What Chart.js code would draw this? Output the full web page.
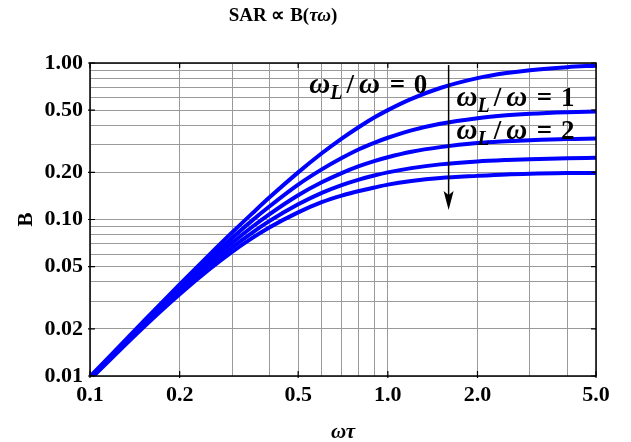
<!DOCTYPE html>
<html>
<head>
<meta charset="utf-8">
<script src="https://cdn.jsdelivr.net/npm/chart.js@4/dist/chart.umd.min.js"></script>
<style>
html,body{margin:0;padding:0;background:#fff;}
#wrap{width:631px;height:442px;}
</style>
</head>
<body>
<div id="wrap"><canvas id="c" width="631" height="442"></canvas></div>
<script>
// ---- data ----
const xValues = [0.1, 0.15, 0.2, 0.25, 0.3, 0.35, 0.4, 0.5, 0.6, 0.7, 0.8, 0.9, 1.0, 1.2, 1.5, 2.0, 2.5, 3.0, 4.0, 5.0];
const b0 = [0.0099, 0.0220, 0.0385, 0.0588, 0.0826, 0.109, 0.138, 0.200, 0.265, 0.329, 0.390, 0.448, 0.500, 0.590, 0.692, 0.800, 0.862, 0.900, 0.941, 0.962];
const b1 = [0.0098, 0.0215, 0.0370, 0.0556, 0.0763, 0.0984, 0.121, 0.167, 0.209, 0.247, 0.281, 0.309, 0.333, 0.371, 0.409, 0.444, 0.463, 0.474, 0.485, 0.490];
const b2 = [0.0097, 0.0211, 0.0357, 0.0526, 0.0709, 0.0896, 0.108, 0.143, 0.173, 0.198, 0.219, 0.236, 0.250, 0.271, 0.290, 0.308, 0.316, 0.321, 0.327, 0.329];
const b3 = [0.0096, 0.0206, 0.0345, 0.0500, 0.0662, 0.0822, 0.0976, 0.125, 0.148, 0.166, 0.180, 0.191, 0.200, 0.213, 0.225, 0.235, 0.240, 0.243, 0.246, 0.248];
const b4 = [0.0095, 0.0202, 0.0333, 0.0476, 0.0621, 0.0760, 0.0889, 0.111, 0.129, 0.142, 0.152, 0.160, 0.167, 0.176, 0.184, 0.190, 0.194, 0.196, 0.198, 0.198];

const xTickValues = [0.1, 0.2, 0.5, 1.0, 2.0, 5.0];
const xTickLabels = ['0.1', '0.2', '0.5', '1.0', '2.0', '5.0'];
const yTickValues = [1.0, 0.5, 0.2, 0.1, 0.05, 0.02, 0.01];
const yTickLabels = ['1.00', '0.50', '0.20', '0.10', '0.05', '0.02', '0.01'];
const xGrid = [0.1, 0.2, 0.3, 0.4, 0.5, 0.6, 0.7, 0.8, 0.9, 1.0, 2.0, 3.0, 4.0, 5.0];
const yGrid = [0.01, 0.02, 0.03, 0.04, 0.05, 0.06, 0.07, 0.08, 0.09, 0.1, 0.2, 0.3, 0.4, 0.5, 0.6, 0.7, 0.8, 0.9, 1.0];

// annotation anchors (data coordinates)
const curveLabels = [
  {text: '0', x: 0.545, y: 0.640},
  {text: '1', x: 1.70, y: 0.535},
  {text: '2', x: 1.70, y: 0.325}
];
const arrowX = 1.6, arrowTop = 0.97, arrowTip = 0.115;

const series = [b0, b1, b2, b3, b4];
const SERIF = '"Liberation Serif", "Times New Roman", serif';

function findLabel(v, vals, labels) {
  for (let i = 0; i < vals.length; i++) {
    if (Math.abs(v - vals[i]) / vals[i] < 1e-6) return labels[i];
  }
  return '';
}

function drawSegments(ctx, segs, x, y, align) {
  let w = 0;
  segs.forEach(s => { ctx.font = s.f; w += ctx.measureText(s.t).width + (s.gap || 0); });
  let cx = align === 'center' ? x - w / 2 : x;
  ctx.textBaseline = 'alphabetic';
  ctx.textAlign = 'left';
  segs.forEach(s => {
    ctx.font = s.f;
    ctx.fillText(s.t, cx, y + (s.dy || 0));
    cx += ctx.measureText(s.t).width + (s.gap || 0);
  });
}

const decor = {
  id: 'decor',
  afterDraw(chart) {
    const ctx = chart.ctx;
    const a = chart.chartArea;
    const xs = chart.scales.x, ys = chart.scales.y;
    ctx.save();
    ctx.fillStyle = '#000';
    ctx.strokeStyle = '#000';

    // frame
    ctx.lineWidth = 1.5;
    ctx.strokeRect(a.left, a.top, a.right - a.left, a.bottom - a.top);

    // major tick marks on all sides
    ctx.lineWidth = 1.2;
    ctx.beginPath();
    yTickValues.forEach(v => {
      const py = ys.getPixelForValue(v);
      ctx.moveTo(a.left - 2, py); ctx.lineTo(a.left + 5, py);
      ctx.moveTo(a.right - 5, py); ctx.lineTo(a.right, py);
    });
    xTickValues.forEach(v => {
      const px = xs.getPixelForValue(v);
      ctx.moveTo(px, a.bottom + 2); ctx.lineTo(px, a.bottom - 5);
      ctx.moveTo(px, a.top); ctx.lineTo(px, a.top + 5);
    });
    ctx.stroke();

    // title
    drawSegments(ctx, [
      {t: 'SAR \u221D B(', f: 'bold 19px ' + SERIF},
      {t: '\u03C4\u03C9', f: 'italic bold 19px ' + SERIF},
      {t: ')', f: 'bold 19px ' + SERIF}
    ], 283, 21, 'center');

    // axis titles
    drawSegments(ctx, [{t: '\u03C9\u03C4', f: 'italic bold 21px ' + SERIF}], (a.left + a.right) / 2, 438, 'center');
    ctx.save();
    ctx.translate(32, (a.top + a.bottom) / 2);
    ctx.rotate(-Math.PI / 2);
    drawSegments(ctx, [{t: 'B', f: 'bold 21px ' + SERIF}], 0, 0, 'center');
    ctx.restore();

    // curve labels
    curveLabels.forEach(l => {
      const px = xs.getPixelForValue(l.x), py = ys.getPixelForValue(l.y);
      drawSegments(ctx, [
        {t: '\u03C9', f: 'italic bold 29px ' + SERIF},
        {t: 'L', f: 'italic bold 20px ' + SERIF, dy: 6, gap: 4},
        {t: '/', f: 'bold 27px ' + SERIF, gap: 5},
        {t: '\u03C9', f: 'italic bold 29px ' + SERIF, gap: 3},
        {t: ' = ', f: 'bold 27px ' + SERIF, gap: 2},
        {t: l.text, f: 'bold 27px ' + SERIF}
      ], px, py, 'left');
    });

    // arrow
    const ax = xs.getPixelForValue(arrowX);
    const at = ys.getPixelForValue(arrowTop);
    const ab = ys.getPixelForValue(arrowTip);
    ctx.lineWidth = 1.5;
    ctx.beginPath();
    ctx.moveTo(ax, at); ctx.lineTo(ax, ab - 12);
    ctx.stroke();
    ctx.beginPath();
    ctx.moveTo(ax, ab);
    ctx.lineTo(ax - 5, ab - 19);
    ctx.lineTo(ax, ab - 15);
    ctx.lineTo(ax + 5, ab - 19);
    ctx.closePath();
    ctx.fill();
    ctx.restore();
  }
};

new Chart(document.getElementById('c'), {
  type: 'line',
  data: {
    datasets: series.map(s => ({
      data: xValues.map((x, i) => ({x: x, y: s[i]})),
      borderColor: '#0000ff',
      borderWidth: 4,
      pointRadius: 0,
      fill: false,
      cubicInterpolationMode: 'monotone'
    }))
  },
  options: {
    responsive: false,
    animation: false,
    events: [],
    layout: {padding: {top: 63, right: 35, left: 0, bottom: 0}},
    plugins: {legend: {display: false}, title: {display: false}, tooltip: {enabled: false}},
    scales: {
      x: {
        type: 'logarithmic',
        min: 0.1, max: 5,
        afterBuildTicks(scale) { scale.ticks = xGrid.map(v => ({value: v})); },
        afterFit(scale) { scale.height = 66; },
        grid: {color: '#9a9a9a', lineWidth: 1, drawTicks: false},
        border: {display: false},
        ticks: {
          autoSkip: false, maxRotation: 0, padding: 6, color: '#000',
          font: {family: SERIF, size: 22, weight: 'bold'},
          callback(v) { return findLabel(v, xTickValues, xTickLabels); }
        }
      },
      y: {
        type: 'logarithmic',
        min: 0.01, max: 1,
        afterBuildTicks(scale) { scale.ticks = yGrid.map(v => ({value: v})); },
        afterFit(scale) { scale.width = 90; },
        grid: {color: '#9a9a9a', lineWidth: 1, drawTicks: false},
        border: {display: false},
        ticks: {
          autoSkip: false, padding: 7, color: '#000',
          font: {family: SERIF, size: 22, weight: 'bold'},
          callback(v) { return findLabel(v, yTickValues, yTickLabels); }
        }
      }
    }
  },
  plugins: [decor]
});
</script>
</body>
</html>
